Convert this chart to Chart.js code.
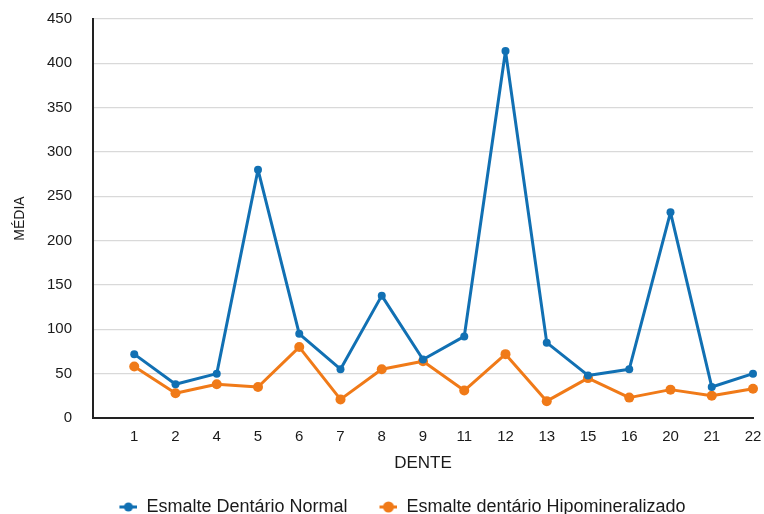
<!DOCTYPE html>
<html>
<head>
<meta charset="utf-8">
<script src="https://cdn.jsdelivr.net/npm/chart.js@4/dist/chart.umd.min.js"></script>
<style>
  html, body { margin: 0; padding: 0; background: #ffffff; }
  #wrap { width: 764px; height: 514px; }
</style>
</head>
<body>
<div id="wrap"><canvas id="c" width="764" height="514"></canvas></div>
<script>
const categories = ['1','2','4','5','6','7','8','9','11','12','13','15','16','20','21','22'];
const normalValues = [72, 38, 50, 280, 95, 55, 138, 66, 92, 414, 85, 48, 55, 232, 35, 50];
const hipoValues = [58, 28, 38, 35, 80, 21, 55, 64, 31, 72, 19, 45, 23, 32, 25, 33];
const seriesNames = ['Esmalte Dentário Normal', 'Esmalte dentário Hipomineralizado'];
const yTickValues = [0, 50, 100, 150, 200, 250, 300, 350, 400, 450];

const BLUE = '#1170b3';
const ORANGE = '#f07a18';

function legendMarker(color, r) {
  const cv = document.createElement('canvas');
  cv.width = 40; cv.height = 14;
  const g = cv.getContext('2d');
  g.strokeStyle = color; g.lineWidth = 3;
  g.beginPath(); g.moveTo(22, 7); g.lineTo(40, 7); g.stroke();
  g.fillStyle = color;
  g.beginPath(); g.arc(31, 7, r, 0, Math.PI * 2); g.fill();
  return cv;
}
const markers = [legendMarker(BLUE, 4.5), legendMarker(ORANGE, 5.5)];

Chart.defaults.font.family = '"Liberation Sans", Arial, Helvetica, sans-serif';
Chart.defaults.color = '#1a1a1a';

new Chart(document.getElementById('c'), {
  type: 'line',
  data: {
    labels: [''].concat(categories),
    datasets: [
      {
        label: seriesNames[0],
        data: [null].concat(normalValues),
        borderColor: BLUE, backgroundColor: BLUE,
        borderWidth: 3, borderJoinStyle: 'round', borderCapStyle: 'round',
        pointRadius: 4, pointHoverRadius: 4,
        pointBackgroundColor: BLUE, pointBorderWidth: 0, tension: 0
      },
      {
        label: seriesNames[1],
        data: [null].concat(hipoValues),
        borderColor: ORANGE, backgroundColor: ORANGE,
        borderWidth: 3, borderJoinStyle: 'round', borderCapStyle: 'round',
        pointRadius: 5, pointHoverRadius: 5,
        pointBackgroundColor: ORANGE, pointBorderWidth: 0, tension: 0
      }
    ]
  },
  options: {
    responsive: false,
    animation: false,
    layout: { padding: { left: 30, right: 11, top: 19, bottom: -12 } },
    scales: {
      x: {
        offset: false,
        grid: { display: false, drawTicks: false },
        border: { display: true, color: '#222222', width: 2 },
        ticks: { padding: 10, font: { size: 15 }, color: '#1a1a1a', autoSkip: false, maxRotation: 0 },
        title: { display: true, text: 'DENTE', font: { size: 17 }, color: '#1a1a1a', padding: { top: 0, bottom: 14 } },
        afterFit: s => { s.height = 70; s.paddingLeft = 0; s.paddingRight = 0; }
      },
      y: {
        min: 0, max: 450,
        afterBuildTicks: s => { s.ticks = yTickValues.map(v => ({ value: v })); },
        grid: { color: '#d9d9d9', lineWidth: 1.2, drawTicks: false },
        border: { display: true, color: '#222222', width: 2 },
        ticks: { padding: 21, font: { size: 15 }, color: '#1a1a1a' },
        title: { display: true, text: 'MÉDIA', font: { size: 14 }, color: '#1a1a1a', padding: { top: -18.4, bottom: 0 } },
        afterFit: s => { s.width = 63; s.paddingTop = 0; s.paddingBottom = 0; }
      }
    },
    plugins: {
      tooltip: { enabled: false },
      legend: {
        position: 'bottom',
        labels: {
          usePointStyle: true,
          pointStyleWidth: 40,
          padding: 10,
          color: '#1a1a1a',
          font: { size: 18 },
          generateLabels: chart => {
            const items = Chart.defaults.plugins.legend.labels.generateLabels(chart);
            items.forEach((it, i) => { it.pointStyle = markers[i]; });
            return items;
          }
        }
      }
    }
  }
});
</script>
</body>
</html>
